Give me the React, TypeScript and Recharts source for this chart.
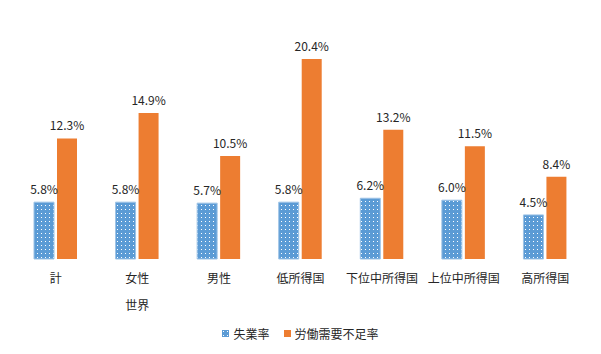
import React from 'react';
import { BarChart, Bar, XAxis, YAxis, LabelList } from 'recharts';

const categories = ['計', '女性', '男性', '低所得国', '下位中所得国', '上位中所得国', '高所得国'];
const groupLabels = ['', '世界', '', '', '', '', ''];
const unemployment = [5.8, 5.8, 5.7, 5.8, 6.2, 6.0, 4.5];
const shortage = [12.3, 14.9, 10.5, 20.4, 13.2, 11.5, 8.4];
const seriesNames = ['失業率', '労働需要不足率'];

const data = categories.map((c, i) => ({
  name: c,
  group: groupLabels[i],
  u: unemployment[i],
  s: shortage[i],
}));

const FONT = '"Noto Sans CJK JP", "Noto Sans", sans-serif';
const BLUE = '#5B9BD5';
const ORANGE = '#ED7D31';
const TEXT = '#262626';

const fmt = (v: any) => `${Number(v).toFixed(1)}%`;

const Tick = (props: any) => {
  const { x, y, payload, index } = props;
  const g = groupLabels[index] || '';
  return (
    <g>
      <text x={x} y={y} dy={16} textAnchor="middle" fontSize={12} fill={TEXT} fontFamily={FONT}>
        {payload.value}
      </text>
      {g ? (
        <text x={x} y={y} dy={43} textAnchor="middle" fontSize={12} fill={TEXT} fontFamily={FONT}>
          {g}
        </text>
      ) : null}
    </g>
  );
};

const LegendBox = () => (
  <div
    style={{
      position: 'absolute',
      left: 0,
      top: 325,
      width: 601,
      display: 'flex',
      justifyContent: 'center',
      alignItems: 'center',
      fontFamily: FONT,
      fontSize: 12,
      lineHeight: '17px',
      color: TEXT,
    }}
  >
    <svg width={7} height={7} style={{ marginRight: 4 }}>
      <rect x={0} y={0} width={7} height={7} fill="url(#dots)" />
    </svg>
    <span style={{ marginRight: 14 }}>{seriesNames[0]}</span>
    <svg width={7} height={7} style={{ marginRight: 4 }}>
      <rect x={0} y={0} width={7} height={7} fill={ORANGE} />
    </svg>
    <span>{seriesNames[1]}</span>
  </div>
);

export default function App() {
  return (
    <div style={{ position: 'absolute', left: 0, top: 0, width: 601, height: 354 }}>
      <BarChart
        width={601}
        height={354}
        data={data}
        margin={{ top: 14, right: 15, bottom: 65, left: 15 }}
        barGap={3}
        barSize={20}
      >
        <defs>
          <pattern id="dots" x={0} y={0} width={4} height={4} patternUnits="userSpaceOnUse">
            <rect x={0} y={0} width={4} height={4} fill={BLUE} />
            <rect x={1} y={1} width={1} height={1} fill="#ffffff" />
          </pattern>
        </defs>
        <XAxis dataKey="name" axisLine={false} tickLine={false} tick={<Tick />} interval={0} height={30} />
        <YAxis hide domain={[0, 25]} />
        <Bar dataKey="u" name={seriesNames[0]} fill="url(#dots)" stroke="#9DC3E6" strokeWidth={1} isAnimationActive={false}>
          <LabelList dataKey="u" position="top" offset={8} formatter={fmt} fill={TEXT} fontSize={12} fontFamily={FONT} />
        </Bar>
        <Bar dataKey="s" name={seriesNames[1]} fill={ORANGE} isAnimationActive={false}>
          <LabelList dataKey="s" position="top" offset={8} formatter={fmt} fill={TEXT} fontSize={12} fontFamily={FONT} />
        </Bar>
      </BarChart>
      <LegendBox />
    </div>
  );
}
